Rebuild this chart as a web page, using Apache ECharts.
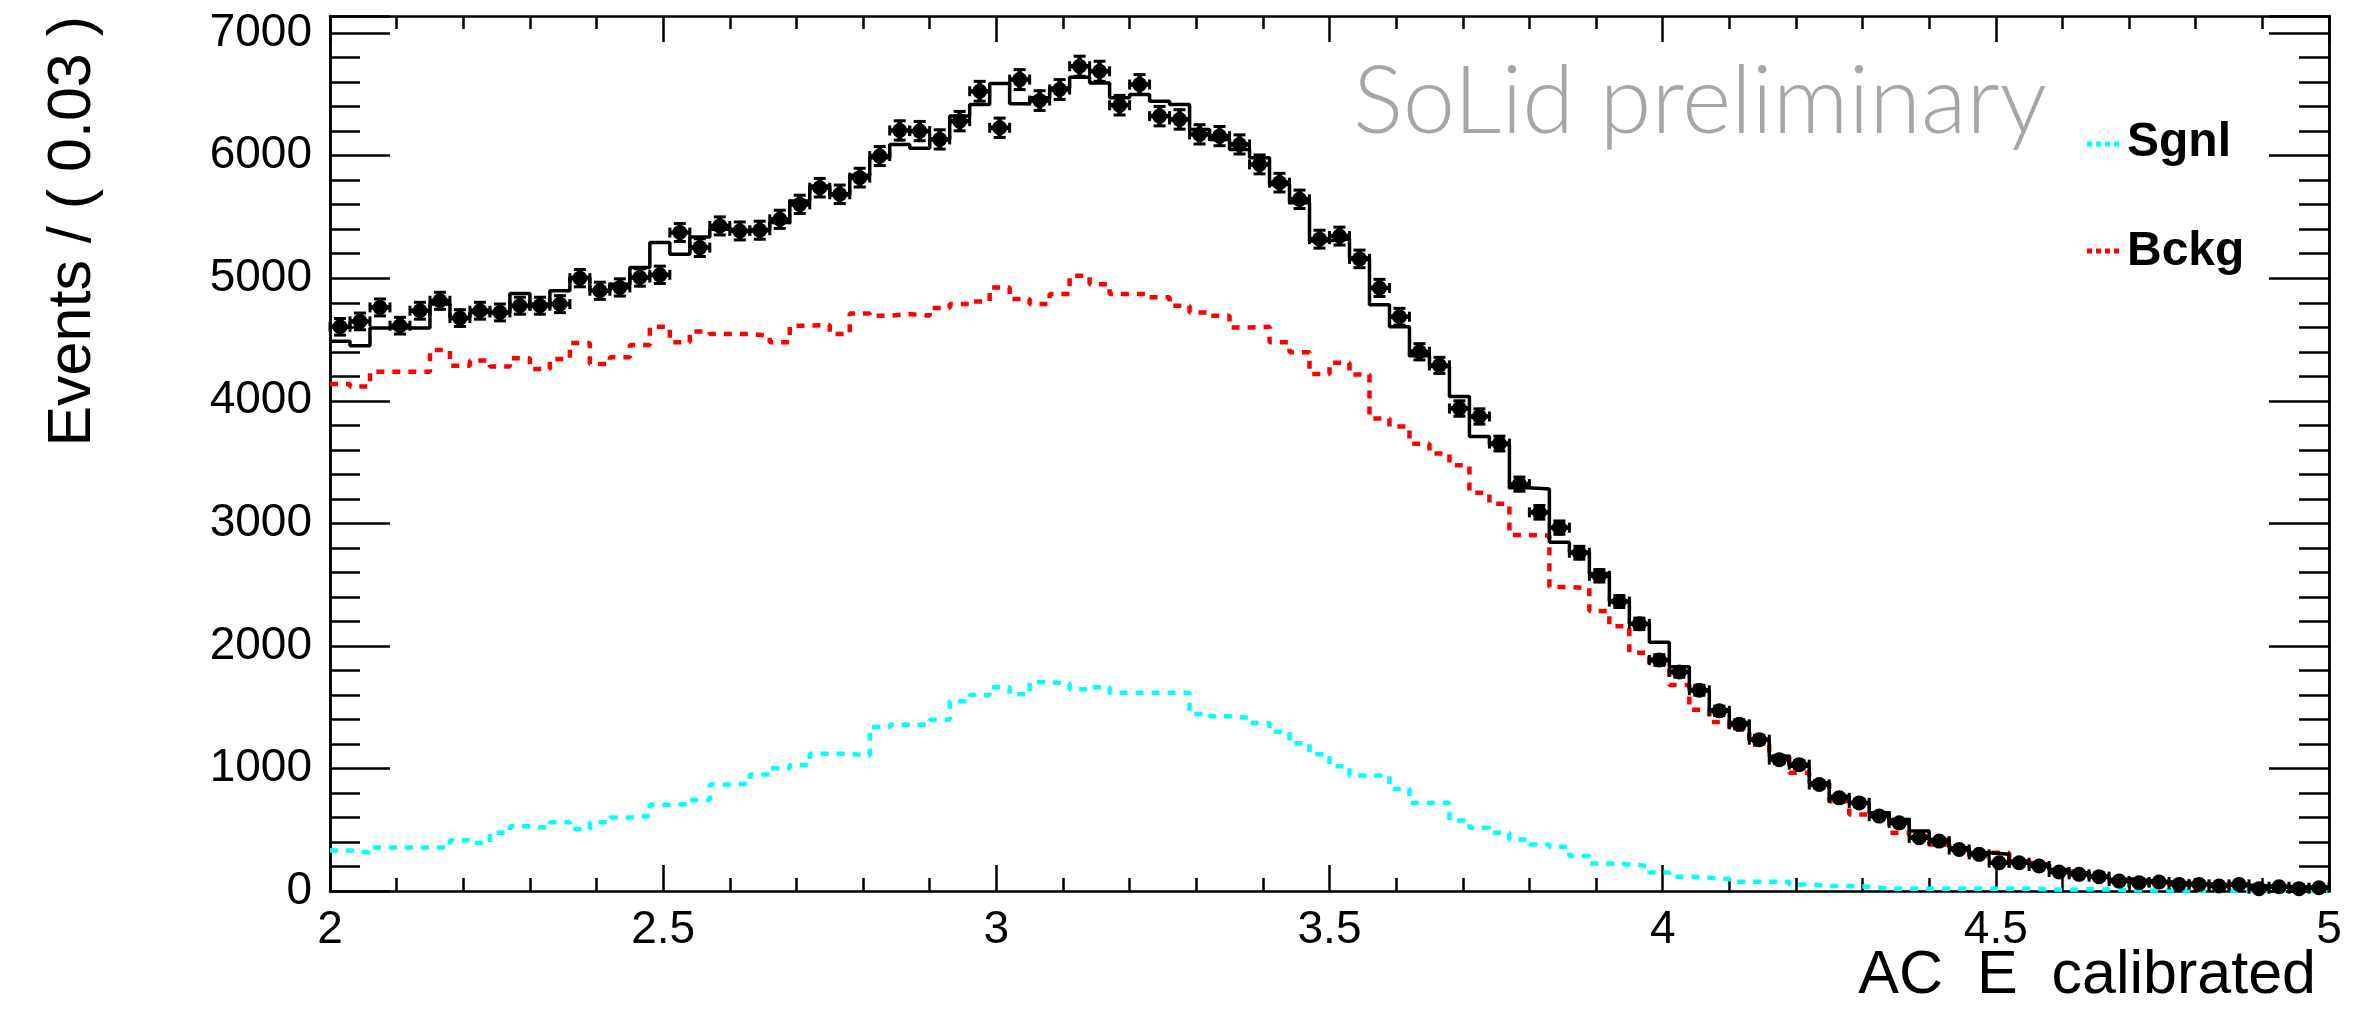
<!DOCTYPE html>
<html>
<head>
<meta charset="utf-8">
<script src="https://cdn.jsdelivr.net/npm/echarts@6/dist/echarts.min.js"></script>
<style>
html,body{margin:0;padding:0;background:#fff;}
#chart{width:2377px;height:1026px;}
</style>
</head>
<body>
<div id="chart"></div>
<script>
// ---- data (bins of width 0.03 from 2 to 5) ----
const xMin = 2, xMax = 5, binWidth = 0.03;
const xTickLabels = ['2', '2.5', '3', '3.5', '4', '4.5', '5'];
const yTickLabels = ['0', '1000', '2000', '3000', '4000', '5000', '6000', '7000'];

const dataCounts = [4604,4648,4762,4613,4735,4816,4675,4735,4721,4776,
4776,4789,5001,4898,4925,5006,5028,5373,5250,5427,
5386,5392,5481,5603,5739,5685,5821,5997,6206,6201,
6133,6282,6526,6228,6621,6450,6540,6730,6689,6412,
6581,6323,6296,6174,6160,6092,5929,5780,5644,5319,
5344,5158,4921,4686,4400,4289,3937,3872,3651,3320,
3090,2965,2760,2572,2362,2180,1885,1787,1638,1470,
1360,1235,1072,1031,869,760,719,611,556,434,
407,339,299,231,231,204,155,136,117,81,
68,73,54,54,41,54,19,35,19,27];

const totalFit = [4485,4450,4594,4594,4594,4789,4680,4721,4721,4876,
4789,4898,5006,4898,4952,5088,5291,5196,5337,5400,
5386,5400,5454,5630,5753,5680,5840,5984,6092,6060,
6133,6323,6418,6589,6423,6472,6553,6640,6594,6472,
6499,6445,6418,6214,6133,6051,5984,5766,5617,5305,
5321,5165,4784,4605,4367,4279,4035,3709,3644,3290,
3280,2845,2765,2590,2366,2180,2030,1830,1635,1478,
1374,1235,1099,1018,882,774,719,638,584,489,
421,353,312,299,244,217,176,149,122,95,
85,75,66,58,52,46,40,35,30,26];

const bckg = [4138,4116,4238,4238,4238,4414,4287,4328,4279,4347,
4260,4341,4472,4300,4355,4455,4604,4477,4566,4545,
4545,4531,4477,4613,4618,4545,4713,4694,4708,4694,
4757,4789,4811,4925,4830,4789,4871,5020,4952,4871,
4871,4844,4776,4721,4694,4599,4605,4477,4396,4219,
4310,4215,3855,3790,3650,3570,3475,3250,3160,2905,
2900,2480,2470,2285,2160,1945,1857,1680,1480,1380,
1317,1194,1099,964,882,733,624,611,475,448,
380,353,285,312,231,217,163,149,109,95,
81,70,62,55,50,44,38,33,28,25];

const sgnl = [330,315,355,355,355,355,415,392,475,528,
515,562,505,560,600,612,703,708,743,870,
875,950,1002,1029,1120,1120,1105,1338,1356,1356,
1397,1548,1600,1663,1605,1704,1693,1646,1663,1618,
1618,1618,1618,1445,1425,1412,1370,1300,1205,1115,
1018,942,942,833,719,719,575,516,475,421,
380,361,285,224,217,204,150,117,109,95,
76,76,76,54,41,41,35,19,19,19,
19,19,19,19,19,12,10,15,12,6,
5,4,3,3,2,2,2,1,1,1];

// ---- helpers ----
function stepData(vals){
  const out = vals.map((v,i)=>[+(xMin + i*binWidth).toFixed(4), v]);
  out.push([xMax, vals[vals.length-1]]);
  return out;
}
const pointData = dataCounts.map((v,i)=>[+(xMin + (i+0.5)*binWidth).toFixed(4), v, Math.sqrt(v)]);

const FONT = 'Liberation Sans, Arial, Helvetica, sans-serif';
const yMaxFrame = 7140;

function mkX(pos, showLabel){
  return {
    type:'value', min:xMin, max:xMax, interval:0.5, position:pos, gridIndex:0,
    axisLine:{show:true, onZero:false, lineStyle:{color:'#000', width:2.5}},
    axisTick:{show:true, inside:true, length:26, lineStyle:{color:'#000', width:2.5}},
    minorTick:{show:true, splitNumber:5, length:13, lineStyle:{color:'#000', width:2.5}},
    splitLine:{show:false}, minorSplitLine:{show:false},
    axisLabel:{show:showLabel, color:'#000', fontSize:46, fontFamily:FONT, margin:16,
      formatter:function(v){ const i = Math.round((v - xMin)/0.5); return (Math.abs(v - (xMin + i*0.5))<1e-6) ? xTickLabels[i] : ''; }}
  };
}
function mkY(pos, interval, len, showLabel){
  return {
    type:'value', min:0, max:yMaxFrame, interval:interval, position:pos, gridIndex:0,
    axisLine:{show:true, onZero:false, lineStyle:{color:'#000', width:2.5}},
    axisTick:{show:true, inside:true, length:len, lineStyle:{color:'#000', width:2.5}},
    splitLine:{show:false},
    axisLabel:{show:showLabel, color:'#000', fontSize:46, fontFamily:FONT, margin:18,
      formatter:function(v){ if (v % 1000 !== 0) return ''; return yTickLabels[v/1000] || ''; }}
  };
}

const chart = echarts.init(document.getElementById('chart'), null, {renderer:'canvas'});
const option = {
  animation:false,
  backgroundColor:'#fff',
  grid:{left:330, right:48, top:16, bottom:135, containLabel:false},
  xAxis:[mkX('bottom', true), mkX('top', false)],
  yAxis:[mkY('left',1000,60,true), mkY('left',200,30,false), mkY('right',1000,60,false), mkY('right',200,30,false)],
  series:[
    {
      name:'Sgnl', type:'line', step:'end', data:stepData(sgnl), showSymbol:false, symbol:'none',
      lineStyle:{color:'#00ffff', width:4.5, type:[8,8]}, z:3, silent:true
    },
    {
      name:'Bckg', type:'line', step:'end', data:stepData(bckg), showSymbol:false, symbol:'none',
      lineStyle:{color:'#ff0000', width:4.5, type:[8,8]}, z:3, silent:true
    },
    {
      name:'Total', type:'line', step:'end', data:stepData(totalFit), showSymbol:false, symbol:'none',
      lineStyle:{color:'#000', width:3.5}, z:4, silent:true
    },
    {
      name:'Data', type:'custom', z:5, silent:true,
      data:pointData,
      renderItem:function(params, api){
        const x = api.value(0), y = api.value(1), e = api.value(2);
        const c = api.coord([x, y]);
        const l = api.coord([x - binWidth/2, y]);
        const r = api.coord([x + binWidth/2, y]);
        const t = api.coord([x, y + e]);
        const b = api.coord([x, y - e]);
        const st = {stroke:'#000', lineWidth:4.5};
        return {type:'group', children:[
          {type:'line', shape:{x1:l[0], y1:c[1], x2:r[0], y2:c[1]}, style:st},
          {type:'line', shape:{x1:c[0], y1:t[1]-1, x2:c[0], y2:b[1]+1}, style:st},
          {type:'line', shape:{x1:c[0]-6, y1:t[1], x2:c[0]+6, y2:t[1]}, style:{stroke:'#000', lineWidth:3}},
          {type:'line', shape:{x1:c[0]-6, y1:b[1], x2:c[0]+6, y2:b[1]}, style:{stroke:'#000', lineWidth:3}},
          {type:'line', shape:{x1:l[0], y1:c[1]-5, x2:l[0], y2:c[1]+5}, style:{stroke:'#000', lineWidth:3}},
          {type:'line', shape:{x1:r[0], y1:c[1]-5, x2:r[0], y2:c[1]+5}, style:{stroke:'#000', lineWidth:3}},
          {type:'circle', shape:{cx:c[0], cy:c[1], r:7.5}, style:{fill:'#000'}}
        ]};
      }
    }
  ],
  graphic:[
    {type:'text', x:73, y:16, rotation:Math.PI/2,
      style:{text:'Events / ( 0.03 )', fill:'#000', font:'61px ' + FONT, align:'right', verticalAlign:'middle'}},
    {type:'text', x:2316, y:976,
      style:{text:'AC  E  calibrated', fill:'#000', font:'61px ' + FONT, align:'right', verticalAlign:'middle'}},
    {type:'text', x:1353, y:103,
      style:{text:'SoLid preliminary', fill:'#a6a6a6', font:'300 94px Lato, "Open Sans", sans-serif', align:'left', verticalAlign:'middle'}},
    {type:'line', shape:{x1:2087, y1:144, x2:2122, y2:144}, style:{stroke:'#00ffff', lineWidth:5, lineDash:[5,4]}},
    {type:'text', x:2127, y:143,
      style:{text:'Sgnl', fill:'#000', font:'bold 48px ' + FONT, align:'left', verticalAlign:'middle'}},
    {type:'line', shape:{x1:2087, y1:251, x2:2122, y2:251}, style:{stroke:'#ff0000', lineWidth:5, lineDash:[5,4]}},
    {type:'text', x:2127, y:252,
      style:{text:'Bckg', fill:'#000', font:'bold 48px ' + FONT, align:'left', verticalAlign:'middle'}}
  ]
};
chart.setOption(option);
</script>
</body>
</html>
